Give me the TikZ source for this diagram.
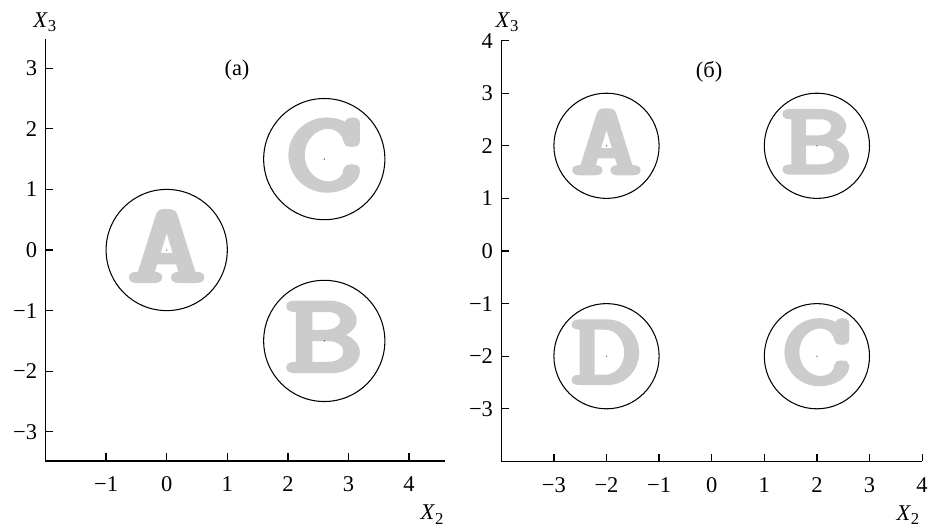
\documentclass[tikz,border=0pt]{standalone}
\usepackage{fontspec}
\setmainfont{Liberation Serif}
\newfontfamily\lettfont[FakeBold=4.5]{Latin Modern Mono}
\newcommand\axnum[1]{\ifnum#1<0 −\number\numexpr0-(#1)\relax\else#1\fi}
\newcommand\xsub[1]{\textit{X}\raisebox{-0.45ex}{\fontsize{9.5}{9.5}\selectfont #1}}
\begin{document}
\begin{tikzpicture}[axis/.style={line width=0.7pt}, ring/.style={line width=0.6pt},
  letter/.style={text=gray!40, inner sep=0pt, xscale=1.35, transform shape, font=\lettfont\fontsize{#1}{#1}\selectfont},
  numlab/.style={inner sep=0pt, font=\fontsize{12.8}{14}\selectfont},
  axlab/.style={inner sep=0pt, font=\fontsize{12.8}{14}\selectfont}]
\useasboundingbox (0,0) rectangle (18.6,10.58);
% panel (a)
\begin{scope}[shift={(3.334,5.58)}, x=1.212cm, y=1.212cm]
\draw[axis] (-2,3.48) -- (-2,-3.48) -- (4.59,-3.48);
\foreach \x in {-1,...,4} {
  \draw[axis] (\x,-3.48) -- ++(0,0.13);
  \node[numlab, yshift=-0.47cm] (ax\x) at (\x,-3.48) {\axnum{\x}};
}
\foreach \y in {-3,...,3} {
  \draw[axis] (-2,\y) -- ++(0.13,0);
  \node[numlab, anchor=east, xshift=-0.16cm] (ay\y) at (-2,\y) {\axnum{\y}};
}
\node[axlab] (xa) at (4.38,-4.37) {\xsub{2}};
\node[axlab] (ya) at (-2.01,3.76) {\xsub{3}};
\node[axlab] (ttla) at (1.16,2.97) {(а)};
\foreach \n/\cx/\cy in {A/0/0, C/2.6/1.5, B/2.6/-1.5} {
  \draw[ring] (\cx,\cy) circle (1);
  \node[letter=63, yshift=0.08cm] (la\n) at (\cx,\cy) {\n};
  \fill[black!70] (\cx,\cy) circle (0.4pt);
}
\end{scope}
% panel (b)
\begin{scope}[shift={(14.234,5.56)}, x=1.052cm, y=1.052cm]
\draw[axis] (-4,4) -- (-4,-4) -- (4,-4);
\foreach \x in {-3,...,4} {
  \draw[axis] (\x,-4) -- ++(0,0.15);
  \node[numlab, yshift=-0.47cm] (bx\x) at (\x,-4) {\axnum{\x}};
}
\foreach \y in {-3,...,4} {
  \draw[axis] (-4,\y) -- ++(0.15,0);
  \node[numlab, anchor=east, xshift=-0.16cm] (by\y) at (-4,\y) {\axnum{\y}};
}
\node[axlab] (xb) at (3.73,-5.02) {\xsub{2}};
\node[axlab] (yb) at (-3.89,4.35) {\xsub{3}};
\node[axlab] (ttlb) at (-0.05,3.40) {(б)};
\foreach \n/\cx/\cy in {A/-2/2, B/2/2, D/-2/-2, C/2/-2} {
  \draw[ring] (\cx,\cy) circle (1);
  \node[letter=57, yshift=0.08cm] (lb\n) at (\cx,\cy) {\n};
  \fill[black!70] (\cx,\cy) circle (0.4pt);
}
\end{scope}
\end{tikzpicture}
\end{document}
